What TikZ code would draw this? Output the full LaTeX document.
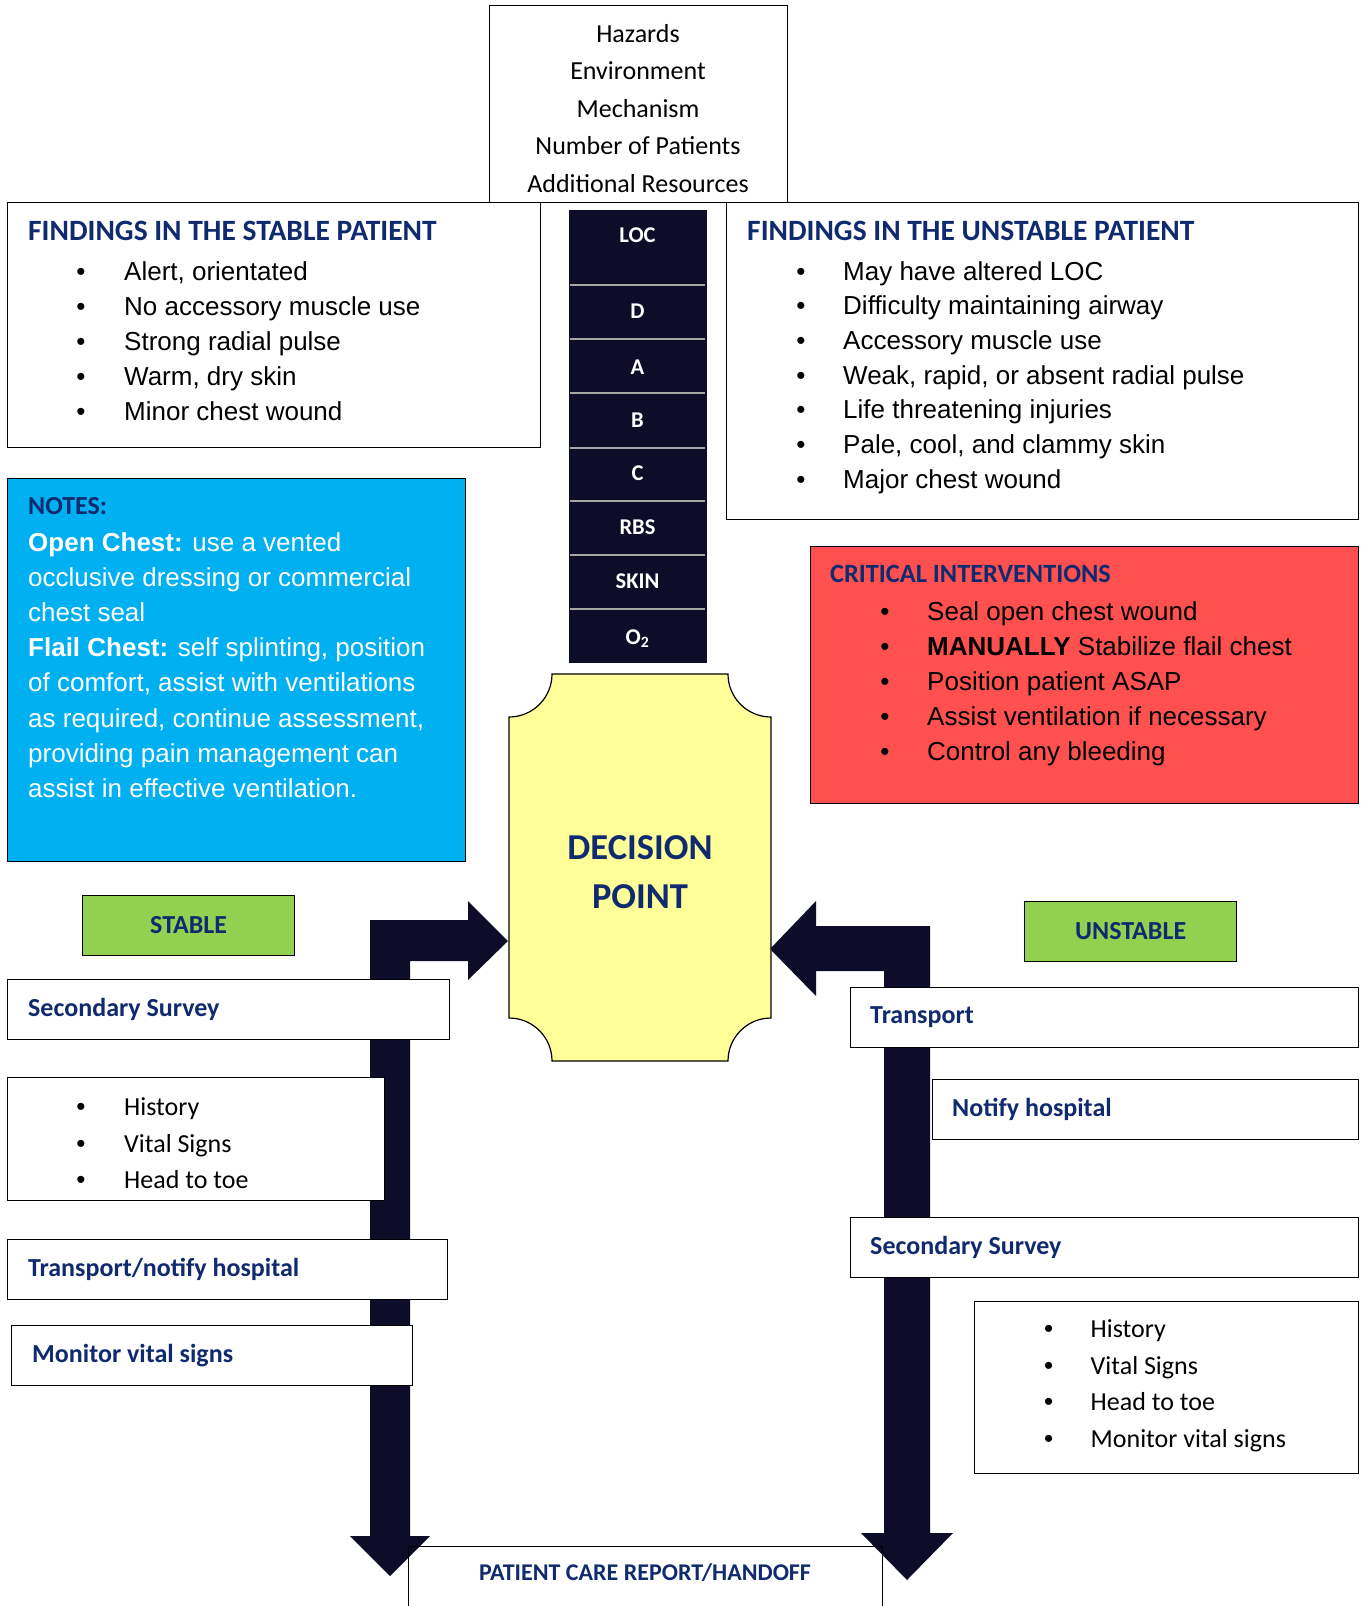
\documentclass[tikz,border=0pt]{standalone}
\usepackage{fontspec}
\setmainfont{Liberation Sans}
\newfontfamily\calibri{Carlito}
\usetikzlibrary{positioning}

\definecolor{navy}{HTML}{0F2A6F}
\definecolor{ink}{HTML}{0D0D29}
\definecolor{sky}{HTML}{00B0F0}
\definecolor{alarm}{HTML}{FF5050}
\definecolor{lemon}{HTML}{FFFF99}
\definecolor{leaf}{HTML}{92D050}
\definecolor{divider}{HTML}{A6A6A6}

\tikzset{
  panel/.style={draw=black, line width=1.3pt, anchor=north west, inner sep=0pt},
  stepbox/.style={panel, fill=white, minimum height=60pt},
  steplabel/.style={inner sep=0pt, text=navy,
    font=\calibri\bfseries\fontsize{26}{30}\selectfont},
  flag/.style={panel, fill=leaf, minimum width=212pt, minimum height=59.5pt,
    font=\calibri\bfseries\fontsize{26}{30}\selectfont, text=navy},
  boxhead/.style={anchor=base west, inner sep=0pt, text=navy,
    font=\calibri\bfseries\fontsize{29.5}{32}\selectfont},
  listline/.style={anchor=base west, inner sep=0pt, font=\fontsize{26}{30}\selectfont},
  calline/.style={anchor=base west, inner sep=0pt, font=\calibri\fontsize{26}{30}\selectfont},
  bulletmark/.style={anchor=base, inner sep=0pt, font=\fontsize{26}{30}\selectfont},
  abcde/.style={anchor=base, inner sep=0pt, text=white,
    font=\calibri\bfseries\fontsize{22.5}{24}\selectfont},
}

\begin{document}
\begin{tikzpicture}[x=1pt, y=-1pt]
  \useasboundingbox (0,0) rectangle (1360,1606);

  % block arrows, under the boxes
  \fill[ink] (370,1536) -- (370,920) -- (468,920) -- (468,901) -- (508,941)
    -- (468,980) -- (468,961) -- (410,961) -- (410,1536) -- (430,1536)
    -- (390,1576) -- (350,1536) -- cycle;
  \fill[ink] (884,1533) -- (884,971) -- (816,971) -- (816,996) -- (770,949)
    -- (816,901) -- (816,926) -- (930,926) -- (930,1533) -- (953,1533)
    -- (907,1580) -- (861,1533) -- cycle;

  % scene
  \node[panel, fill=white, minimum width=298pt, minimum height=197pt] (scene) at (489,5) {};
  \foreach \t [count=\i] in {Hazards, Environment, Mechanism, Number of Patients, Additional Resources}
    \node[anchor=base, inner sep=0pt, font=\calibri\fontsize{26}{30}\selectfont] (scene\i) at ({638},{42.5+37.4*(\i-1)}) {\t};

  % stable findings
  \node[panel, fill=white, minimum width=533pt, minimum height=245pt] (stable) at (7,202) {};
  \node[boxhead] (stablehead) at (28,240.5) {FINDINGS IN THE STABLE PATIENT};
  \foreach \t [count=\i] in {{Alert, orientated}, No accessory muscle use, Strong radial pulse, {Warm, dry skin}, Minor chest wound} {
    \node[bulletmark] (sb\i) at ({81},{280+35*(\i-1)}) {\textbullet};
    \node[listline] (st\i) at ({124},{280+35*(\i-1)}) {\t};
  }

  % unstable findings
  \node[panel, fill=white, minimum width=632pt, minimum height=317pt] (unstable) at (726,202) {};
  \node[boxhead] (unstablehead) at (747,240.5) {FINDINGS IN THE UNSTABLE PATIENT};
  \foreach \t [count=\i] in {May have altered LOC, Difficulty maintaining airway, Accessory muscle use, {Weak, rapid, or absent radial pulse}, Life threatening injuries, {Pale, cool, and clammy skin}, Major chest wound} {
    \node[bulletmark] (ub\i) at ({801},{280+34.7*(\i-1)}) {\textbullet};
    \node[listline] (ut\i) at ({843},{280+34.7*(\i-1)}) {\t};
  }

  % primary survey column
  \node[panel, draw=ink, fill=ink, minimum width=137pt, minimum height=452pt] (assess) at (569,210) {};
  \foreach \y in {285, 339, 393, 447.5, 501, 555, 609}
    \draw[divider, line width=2pt] (570,\y) -- (705,\y);
  \foreach \t/\y [count=\i] in {LOC/235.5, D/311, A/367.5, B/420, C/473, RBS/527, SKIN/581.6, O\textsubscript{2}/637}
    \node[abcde] (step\i) at ({637.5},{\y+7.2}) {\t};

  % notes
  \node[panel, fill=sky, minimum width=458pt, minimum height=383pt] (notes) at (7,478) {};
  \node[boxhead, font=\calibri\bfseries\fontsize{26}{30}\selectfont] (noteshead) at (28,514.5) {NOTES:};
  \foreach \t [count=\i] in {\textbf{Open Chest:} use a vented, occlusive dressing or commercial, chest seal,
      {\textbf{Flail Chest:} self splinting, position}, {of comfort, assist with ventilations},
      {as required, continue assessment,}, providing pain management can, assist in effective ventilation.}
    \node[listline, text=white] (note\i) at ({28},{551+35.2*(\i-1)}) {\t};

  % critical interventions
  \node[panel, fill=alarm, minimum width=548pt, minimum height=257pt] (critical) at (810,546) {};
  \node[boxhead, font=\calibri\bfseries\fontsize{26.3}{30}\selectfont] (criticalhead) at (830,582) {CRITICAL INTERVENTIONS};
  \foreach \t [count=\i] in {Seal open chest wound, \textbf{MANUALLY} Stabilize flail chest, Position patient ASAP, Assist ventilation if necessary, Control any bleeding} {
    \node[bulletmark] (cb\i) at ({885},{620+35*(\i-1)}) {\textbullet};
    \node[listline] (ct\i) at ({927},{620+35*(\i-1)}) {\t};
  }

  % decision point
  \draw[fill=lemon, line width=1.2pt] (552,674) -- (728,674)
    arc[start angle=180, end angle=90, radius=43] -- (771,1018)
    arc[start angle=270, end angle=180, radius=43] -- (552,1061)
    arc[start angle=0, end angle=-90, radius=43] -- (509,717)
    arc[start angle=90, end angle=0, radius=43] -- cycle;
  \node[align=center, text=navy, font=\calibri\bfseries\fontsize{36.5}{49}\selectfont] (dp) at (640,872.5) {DECISION\\POINT};

  % stable side
  \node[flag] (stab) at (82,895) {STABLE};
  \node[stepbox, minimum width=441.5pt] (ssleft) at (7,979) {};
  \node[steplabel, right=21pt of ssleft.west] (ssleftt) {Secondary Survey};
  \node[panel, fill=white, minimum width=377pt, minimum height=123pt] (histleft) at (7,1077) {};
  \foreach \t [count=\i] in {History, Vital Signs, Head to toe} {
    \node[bulletmark] (hlb\i) at ({81},{1115.5+36.5*(\i-1)}) {\textbullet};
    \node[calline] (hlt\i) at ({124},{1115.5+36.5*(\i-1)}) {\t};
  }
  \node[stepbox, minimum width=439.5pt, minimum height=59.5pt] (tnleft) at (7,1239) {};
  \node[steplabel, right=21pt of tnleft.west] (tnleftt) {Transport/notify hospital};
  \node[stepbox, minimum width=400.6pt, minimum height=59.5pt] (mvleft) at (11,1325) {};
  \node[steplabel, right=21pt of mvleft.west] (mvleftt) {Monitor vital signs};

  % unstable side
  \node[flag] (unstab) at (1024,901) {UNSTABLE};
  \node[stepbox, minimum width=508pt, minimum height=59.5pt] (trright) at (850,987) {};
  \node[steplabel, right=20pt of trright.west] (trrightt) {Transport};
  \node[stepbox, minimum width=426pt] (nhright) at (932,1079) {};
  \node[steplabel, right=20pt of nhright.west] (nhrightt) {Notify hospital};
  \node[stepbox, minimum width=508pt, minimum height=60.5pt] (ssright) at (850,1216.5) {};
  \node[steplabel, right=20pt of ssright.west] (ssrightt) {Secondary Survey};
  \node[panel, fill=white, minimum width=384pt, minimum height=172pt] (histright) at (974,1300.5) {};
  \foreach \t [count=\i] in {History, Vital Signs, Head to toe, Monitor vital signs} {
    \node[bulletmark] (hrb\i) at ({1048.6},{1337.5+36.7*(\i-1)}) {\textbullet};
    \node[calline] (hrt\i) at ({1090.5},{1337.5+36.7*(\i-1)}) {\t};
  }

  % handoff
  \node[panel, minimum width=474pt, minimum height=90pt] (pcrbox) at (407.5,1546) {};
  \node[anchor=base, inner sep=0pt, text=navy, font=\calibri\bfseries\fontsize{24}{26}\selectfont] (pcr) at (645,1580.6) {PATIENT CARE REPORT/HANDOFF};
\end{tikzpicture}
\end{document}
